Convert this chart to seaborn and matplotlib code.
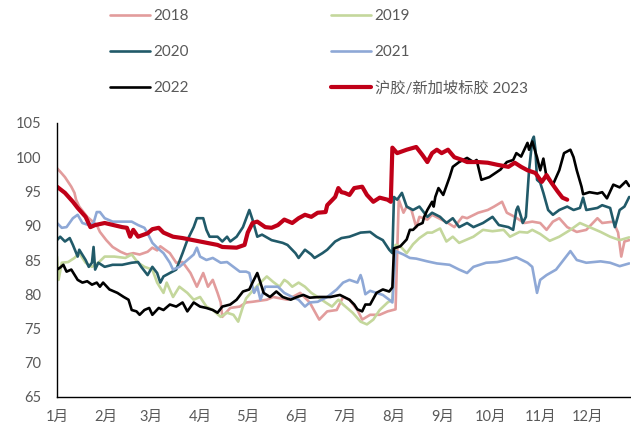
import pandas as pd
import matplotlib
matplotlib.use("Agg")
import matplotlib.pyplot as plt
import seaborn as sns

# (day of year, price)
s2018 = [(0,98.4),(2,97.9),(5,97.1),(9,95.7),(11,94.8),(12,93.8),(14,92.8),(19,91.3),(21,90.9),(25,90.1),(27,89.1),(31,87.9),(35,86.9),(40,86.2),(44,85.8),(48,86.0),(52,85.8),(57,86.2),(60,86.8),(63,86.4),(65,87.0),(71,86.0),(75,84.6),(79,84.7),(84,83.1),(88,81.1),(92,83.1),(95,81.1),(98,82.1),(101,80.2),(103,78.8),(104,76.7),(109,78.0),(115,78.2),(119,78.8),(123,78.9),(132,79.2),(136,79.6),(145,79.2),(153,80.2),(159,78.8),(164,76.7),(165,76.3),(170,77.5),(176,77.7),(180,79.6),(184,79.2),(189,77.7),(192,76.3),(197,77.0),(203,77.0),(208,77.5),(213,77.8),(215,93.8),(218,91.9),(220,92.8),(223,92.3),(226,89.8),(228,91.3),(233,90.9),(236,91.6),(241,91.0),(246,90.4),(250,89.8),(255,91.3),(258,91.1),(265,91.9),(271,92.3),(275,92.8),(280,93.5),(283,91.9),(288,91.3),(294,90.4),(299,90.6),(304,90.4),(308,89.4),(312,90.6),(316,91.1),(321,89.8),(327,89.1),(333,89.4),(340,91.1),(343,90.4),(350,90.6),(353,89.0),(355,85.5),(357,87.7),(360,87.9)]

s2019 = [(0,85.5),(1,82.1),(3,84.6),(7,84.7),(11,85.3),(14,86.0),(18,84.6),(22,84.0),(26,84.6),(30,85.5),(36,85.5),(43,85.3),(47,85.8),(51,84.6),(55,84.0),(60,83.6),(63,81.7),(67,80.2),(69,81.7),(73,79.6),(77,81.1),(82,80.2),(86,79.2),(90,79.6),(94,78.2),(98,77.7),(103,76.7),(107,77.3),(111,77.0),(114,76.0),(117,78.2),(119,79.4),(123,80.5),(128,81.7),(132,82.6),(136,81.8),(140,81.1),(143,82.1),(145,81.8),(148,81.1),(152,81.7),(156,81.1),(160,80.2),(164,79.6),(169,78.8),(173,78.2),(177,79.2),(180,78.5),(186,77.3),(191,76.0),(195,75.6),(199,76.3),(203,77.7),(208,78.8),(211,79.2),(213,87.2),(216,87.0),(220,86.0),(224,87.3),(228,88.2),(233,89.0),(236,89.0),(241,89.6),(245,87.7),(249,88.4),(253,87.5),(258,88.0),(262,88.4),(268,89.4),(274,89.2),(281,89.4),(285,88.4),(291,89.1),(296,89.0),(299,89.4),(304,88.8),(310,87.8),(316,88.4),(323,89.4),(329,90.4),(335,89.8),(342,89.1),(348,88.4),(354,87.9),(360,88.3)]

s2020 = [(0,87.9),(2,88.4),(5,87.7),(8,88.2),(10,87.2),(13,85.5),(14,86.5),(18,85.0),(20,84.0),(22,84.6),(23,86.9),(24,83.6),(26,84.6),(30,84.0),(35,84.3),(41,84.3),(47,84.6),(51,84.7),(53,84.0),(57,82.8),(60,84.0),(63,83.1),(65,81.7),(67,82.6),(71,83.1),(75,83.6),(79,86.0),(82,87.9),(86,89.8),(88,91.1),(92,91.1),(94,89.4),(96,88.4),(101,88.4),(104,87.7),(107,88.4),(109,87.7),(113,88.4),(117,89.8),(121,92.3),(123,90.9),(126,88.4),(129,88.7),(135,87.9),(142,87.5),(145,87.2),(150,86.0),(152,85.3),(156,86.5),(160,85.8),(162,85.3),(167,86.0),(170,86.5),(175,87.7),(179,88.2),(184,88.4),(191,89.0),(197,89.1),(201,88.4),(205,87.9),(209,86.5),(211,86.0),(212,94.2),(214,93.8),(217,94.8),(220,92.8),(224,92.3),(228,92.8),(233,91.3),(236,91.9),(241,91.3),(245,90.4),(249,91.1),(253,89.8),(258,90.4),(262,89.8),(268,90.4),(274,91.3),(278,90.1),(284,89.8),(287,89.4),(289,92.3),(290,92.8),(292,91.3),(293,90.4),(295,91.3),(297,98.1),(299,102.5),(300,103.0),(301,101.1),(302,96.7),(304,96.3),(306,94.8),(309,92.3),(312,91.6),(316,92.3),(321,92.8),(325,92.3),(329,92.6),(331,94.1),(333,92.3),(340,92.6),(343,93.0),(348,92.6),(351,89.8),(354,92.3),(357,92.8),(360,94.2)]

s2021 = [(0,90.4),(3,89.7),(6,89.8),(10,91.1),(13,91.6),(16,90.4),(20,90.1),(23,90.4),(25,92.0),(27,92.0),(30,91.1),(35,90.6),(41,90.6),(47,90.6),(51,90.1),(55,89.7),(57,88.9),(60,87.5),(63,86.8),(67,86.0),(71,84.6),(73,83.6),(77,84.0),(82,85.0),(86,85.8),(88,86.8),(90,85.5),(94,85.0),(98,85.3),(103,84.6),(107,84.7),(111,84.0),(115,83.3),(119,83.3),(121,83.1),(123,81.1),(124,80.2),(126,81.1),(128,79.2),(131,81.1),(135,81.1),(139,81.1),(143,80.2),(148,79.6),(152,79.2),(156,78.2),(159,78.8),(164,78.9),(170,79.6),(176,80.7),(180,81.7),(184,82.1),(189,81.7),(191,82.8),(192,82.1),(194,80.0),(197,80.5),(201,80.2),(205,79.9),(209,79.2),(211,78.8),(213,86.3),(218,85.8),(222,85.3),(226,85.2),(233,84.8),(239,84.5),(247,84.3),(253,83.6),(258,83.1),(262,84.0),(270,84.6),(277,84.7),(283,85.0),(289,85.4),(296,84.6),(299,84.0),(302,80.2),(304,82.1),(308,82.8),(314,83.6),(318,84.8),(323,86.3),(327,85.0),(333,84.6),(342,84.8),(348,84.6),(354,84.1),(360,84.5)]

s2022 = [(0,83.6),(2,83.9),(4,84.3),(6,83.3),(9,83.6),(13,82.1),(16,81.7),(19,81.9),(22,81.4),(25,81.7),(27,81.1),(29,81.7),(33,80.7),(38,80.2),(42,79.6),(45,79.2),(47,77.7),(50,77.5),(52,77.0),(55,77.7),(58,78.0),(60,77.0),(64,78.0),(67,77.7),(71,78.5),(75,78.2),(79,78.8),(82,77.5),(86,78.8),(90,78.2),(94,78.0),(98,77.7),(101,77.3),(104,78.2),(109,78.5),(113,79.2),(117,80.4),(121,80.7),(123,81.7),(126,83.1),(128,81.7),(130,80.2),(134,79.6),(138,80.4),(142,79.6),(147,79.2),(151,79.6),(155,79.9),(159,79.5),(165,79.6),(172,79.6),(178,79.9),(184,79.2),(187,78.5),(189,77.8),(192,77.5),(194,78.5),(197,78.5),(201,80.2),(205,80.7),(209,80.4),(211,81.0),(212,86.7),(216,87.0),(218,87.5),(220,88.0),(222,89.4),(224,89.4),(227,90.1),(230,90.4),(231,91.3),(233,92.3),(236,93.5),(237,92.8),(238,94.2),(240,95.5),(243,94.5),(247,97.1),(249,98.6),(253,99.3),(258,99.9),(262,99.3),(264,99.6),(267,96.7),(272,97.1),(279,98.2),(283,99.3),(287,99.6),(289,100.6),(292,100.1),(296,102.1),(297,101.1),(299,102.3),(302,100.0),(304,98.1),(306,99.8),(308,97.1),(312,96.0),(316,98.1),(319,100.6),(323,101.1),(325,100.0),(327,98.1),(330,95.7),(331,94.6),(335,94.9),(340,94.7),(343,94.9),(346,94.0),(350,96.0),(354,95.6),(358,96.5),(360,95.8)]

s2023 = [(0,95.7),(5,94.8),(10,93.5),(13,92.6),(18,91.3),(21,89.8),(24,90.1),(30,90.4),(41,89.8),(44,89.7),(46,88.4),(48,89.4),(51,88.4),(57,88.9),(60,89.5),(64,89.7),(67,89.0),(73,88.4),(79,88.2),(90,87.7),(101,87.2),(104,86.9),(113,86.8),(118,87.2),(120,89.0),(123,90.4),(126,90.6),(131,89.8),(135,89.7),(139,90.1),(143,90.9),(148,90.4),(152,91.1),(156,91.6),(160,91.3),(164,91.9),(169,92.0),(170,93.0),(175,94.2),(177,95.5),(179,94.9),(181,94.8),(184,94.5),(187,95.5),(192,95.7),(195,94.5),(199,93.5),(203,94.1),(208,93.8),(210,93.5),(211,101.4),(214,100.6),(220,101.1),(226,101.5),(230,100.3),(233,99.3),(236,100.6),(239,101.1),(242,100.6),(246,101.1),(250,100.0),(255,99.6),(258,99.3),(265,99.3),(271,99.2),(277,98.9),(284,98.6),(288,99.2),(292,98.6),(296,98.1),(301,97.7),(305,96.4),(308,97.4),(311,96.3),(315,95.0),(318,94.1),(321,93.8)]

series_names = ["2018", "2019", "2020", "2021", "2022", "沪胶/新加坡标胶 2023"]
series_data = [s2018, s2019, s2020, s2021, s2022, s2023]
colors = ["#E29C9C", "#C4D79C", "#215A69", "#8EA8D6", "#000000", "#C00018"]
widths = [1.9, 1.9, 1.9, 1.9, 1.9, 3.0]

month_days = [0, 31, 59, 90, 120, 151, 181, 212, 243, 273, 304, 334]
month_labels = ["1月", "2月", "3月", "4月", "5月", "6月",
                "7月", "8月", "9月", "10月", "11月", "12月"]
y_ticks = [65, 70, 75, 80, 85, 90, 95, 100, 105]

rows = []
for name, pts in zip(series_names, series_data):
    for d, v in pts:
        rows.append((name, d, v))
df = pd.DataFrame(rows, columns=["series", "day", "value"])

sns.set_style("white")
plt.rcParams["font.family"] = ["Lato", "Noto Sans CJK SC", "DejaVu Sans"]
grey = "#595959"

fig = plt.figure(figsize=(6.31, 4.30), dpi=100)
ax = fig.add_axes([57 / 631, 33 / 430, 573 / 631, 274 / 430])

for name, c, lw in zip(series_names, colors, widths):
    sub = df[df["series"] == name]
    sns.lineplot(data=sub, x="day", y="value", color=c, linewidth=lw,
                 ax=ax, label=name, estimator=None, sort=False)

ax.get_legend().remove()
ax.set_xlim(0, 360.5)
ax.set_ylim(65, 105)
ax.set_xticks(month_days)
ax.set_xticklabels(month_labels)
ax.set_yticks(y_ticks)
ax.set_xlabel("")
ax.set_ylabel("")

for side in ["top", "right"]:
    ax.spines[side].set_visible(False)
for side in ["left", "bottom"]:
    ax.spines[side].set_color("black")
    ax.spines[side].set_linewidth(1.0)

ax.tick_params(axis="both", direction="out", length=3.5, width=1.0,
               color="black", labelcolor=grey, labelsize=10.5)
ax.tick_params(axis="y", pad=8)
ax.tick_params(axis="x", pad=6)

handles, labels = ax.get_legend_handles_labels()
order = [0, 2, 4, 1, 3, 5]
fig.legend([handles[i] for i in order], [labels[i] for i in order],
           ncol=2, loc="upper left", bbox_to_anchor=(110 / 631, 1 - 9 / 430),
           frameon=False, fontsize=11, labelcolor=grey,
           handlelength=2.6, handletextpad=0.25, columnspacing=9.3,
           labelspacing=1.45, borderpad=0, borderaxespad=0)

fig.savefig("out.png", dpi=100)
